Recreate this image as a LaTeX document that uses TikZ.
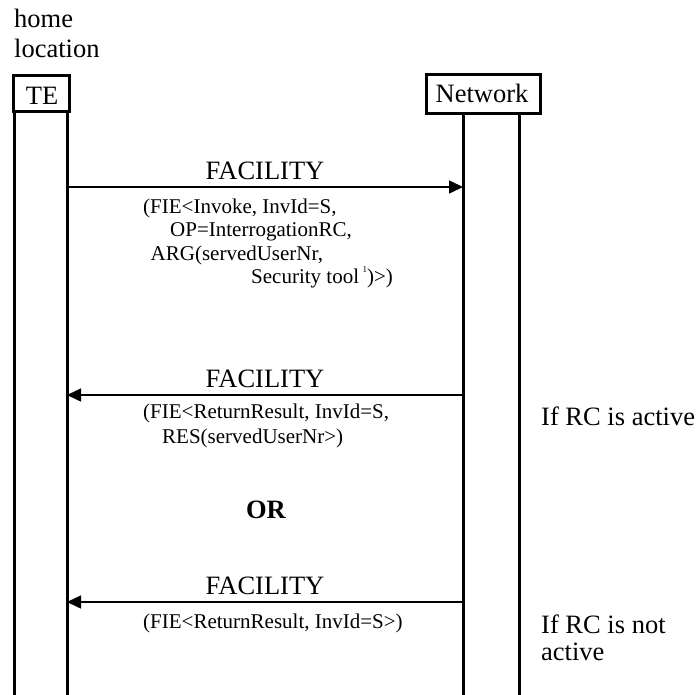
\documentclass[tikz,border=0pt]{standalone}
\usepackage{fontspec}
\setmainfont{Liberation Serif}
\usetikzlibrary{arrows.meta}
\begin{document}
\begin{tikzpicture}[x=1pt,y=-1pt,
  big/.style={font=\fontsize{26.5}{30}\selectfont, inner sep=0pt},
  small/.style={font=\fontsize{21}{24}\selectfont, inner sep=0pt, anchor=base west},
  entity/.style={draw, line width=3pt, inner sep=0pt, font=\fontsize{26.5}{30}\selectfont},
  life/.style={line width=3pt},
  msg/.style={line width=1.5pt, -{Triangle[length=14pt,width=13pt]}}]
\useasboundingbox (0,0) rectangle (698,695);

% header texts
\node[big, anchor=base west] (home) at (14,28) {home};
\node[big, anchor=base west] (loc) at (14,58) {location};

% entity boxes
\node[entity, minimum width=56pt, minimum height=36pt] (te) at (41.5,93.5) {};
\node[big, anchor=base] (telabel) at (42,105) {TE};
\node[entity, minimum width=114pt, minimum height=39pt] (net) at (483.5,94) {};
\node[big, anchor=base] (netlabel) at (482,103) {Network};

% lifelines
\coordinate (teL0) at (14,113);   \coordinate (teL1) at (14,695);
\coordinate (teR0) at (67,113);   \coordinate (teR1) at (67,695);
\coordinate (nL0) at (463,115);   \coordinate (nL1) at (463,695);
\coordinate (nR0) at (519,115);   \coordinate (nR1) at (519,695);
\draw[life] (teL0) -- (teL1);
\draw[life] (teR0) -- (teR1);
\draw[life] (nL0) -- (nL1);
\draw[life] (nR0) -- (nR1);

% message 1
\coordinate (m1a) at (67,187);  \coordinate (m1b) at (463,187);
\draw[msg] (m1a) -- (m1b);
\node[big, anchor=base] (f1) at (265,179) {FACILITY};
\node[small] (p1a) at (143,213) {(FIE<Invoke, InvId=S,};
\node[small] (p1b) at (170,236.5) {OP=InterrogationRC,};
\node[small] (p1c) at (150.5,260) {ARG(servedUserNr,};
\node[small] (p1d) at (251,283) {Security tool\,\raisebox{11pt}{\fontsize{9}{11}\selectfont 1})>)};

% message 2
\coordinate (m2a) at (463,395);  \coordinate (m2b) at (67,395);
\draw[msg] (m2a) -- (m2b);
\node[big, anchor=base] (f2) at (265,387) {FACILITY};
\node[small] (p2a) at (143,418) {(FIE<ReturnResult, InvId=S,};
\node[small] (p2b) at (162,443) {RES(servedUserNr>)};
\node[big, anchor=base west] (c1) at (541,425) {If RC is active};

% OR
\node[big, anchor=base, font=\fontsize{26.5}{30}\selectfont\bfseries] (or) at (266,518) {OR};

% message 3
\coordinate (m3a) at (463,602);  \coordinate (m3b) at (67,602);
\draw[msg] (m3a) -- (m3b);
\node[big, anchor=base] (f3) at (265,594) {FACILITY};
\node[small] (p3a) at (143,628) {(FIE<ReturnResult, InvId=S>)};
\node[big, anchor=base west] (c2) at (541,633) {If RC is not};
\node[big, anchor=base west] (c3) at (541,660) {active};
\end{tikzpicture}
\end{document}
